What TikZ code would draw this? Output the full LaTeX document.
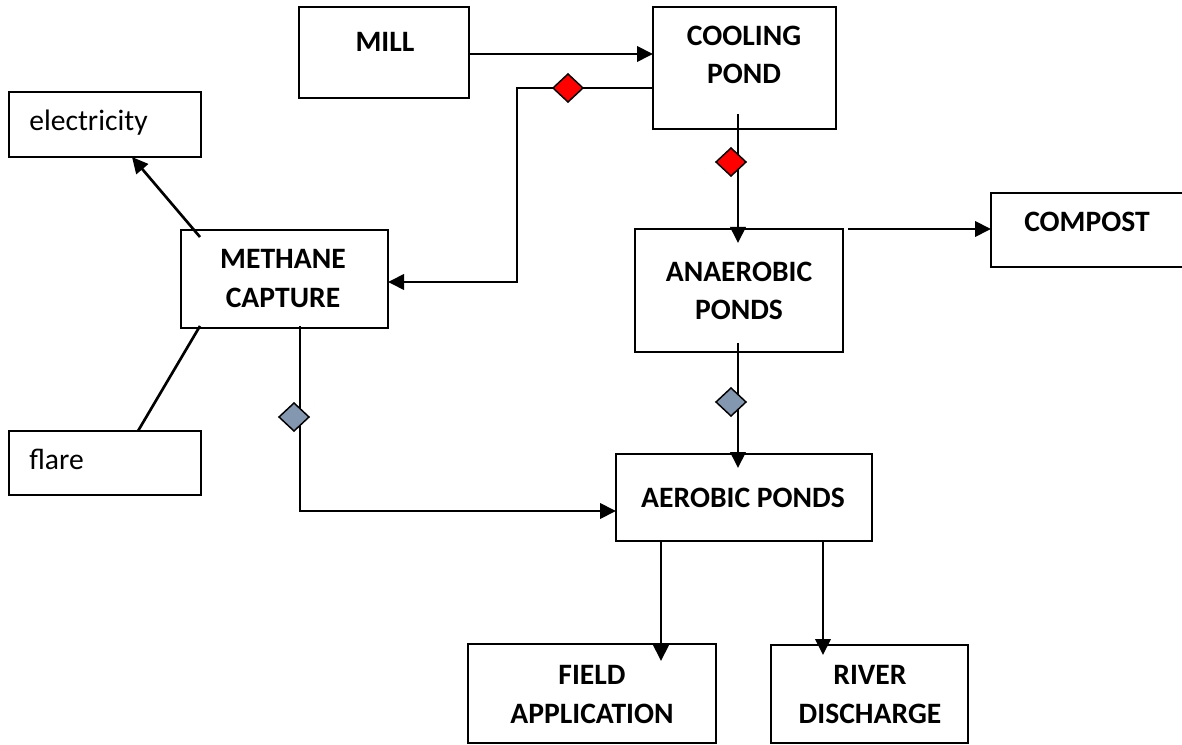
\documentclass[tikz,border=0pt]{standalone}
\usepackage{fontspec}
\setmainfont{Carlito}
\usetikzlibrary{arrows.meta,fit,calc}
\definecolor{dgray}{RGB}{132,151,176}
\definecolor{dred}{RGB}{255,0,0}
\tikzset{
  box/.style={draw=black,line width=1.3pt,inner sep=0pt,outer sep=0pt,fill=white},
  lbl/.style={inner sep=0pt,align=center,font=\bfseries\fontsize{22.2}{29}\selectfont},
  plain/.style={inner sep=0pt,anchor=west,font=\fontsize{22.2}{29}\selectfont},
  conn/.style={draw=black,line width=2pt},
  arr/.style={conn,-{Triangle[length=12pt,width=11.5pt]}},
  reddia/.style={draw=black,line width=1.1pt,fill=dred},
  graydia/.style={draw=black,line width=1.1pt,fill=dgray}
}
\newcommand\mydia[3]{\filldraw[#3] (#1-15,#2) -- (#1,#2-14) -- (#1+15,#2) -- (#1,#2+14) -- cycle;}
\begin{document}
\begin{tikzpicture}[x=0.75pt,y=-0.75pt]
\useasboundingbox (0,0) rectangle (1182,745);
% boxes
\node[box,fit={(299,7) (469,98)}] (mill) {};
\node[box,fit={(653,7) (836,129)}] (cool) {};
\node[box,fit={(9,92) (201,157)}] (elec) {};
\node[box,fit={(181,230) (388,328)}] (meth) {};
\node[box,fit={(991,193) (1185,267)}] (comp) {};
\node[box,fit={(635,229) (843,352)}] (anaer) {};
\node[box,fit={(9,431) (201,495)}] (flare) {};
\node[box,fit={(616,454) (872,541)}] (aer) {};
\node[box,fit={(468,644) (716,743)}] (field) {};
\node[box,fit={(771,645) (968,743)}] (river) {};
% texts
\node[lbl] (millt) at (385,42) {MILL};
\node[lbl] (coolt) at (744,55) {COOLING\\POND};
\node[plain] (elect) at (29,123) {electricity};
\node[lbl] (metht) at (283,278.5) {METHANE\\CAPTURE};
\node[lbl] (compt) at (1087,222) {COMPOST};
\node[lbl] (anaert) at (739,291) {ANAEROBIC\\PONDS};
\node[plain] (flaret) at (29,459) {flare};
\node[lbl] (aert) at (743,498) {AEROBIC PONDS};
\node[lbl] (fieldt) at (592,694.5) {FIELD\\APPLICATION};
\node[lbl] (rivert) at (870,694.5) {RIVER\\DISCHARGE};
% helper coordinates
\coordinate (r54) at (0,54);
\coordinate (k1) at (517,88);
\coordinate (k2) at (517,282);
\coordinate (vA) at (738,0);
\coordinate (vF) at (661,0);
\coordinate (vR) at (823,0);
\coordinate (elb) at (300,511);
% connectors
\draw[arr] (mill.east |- r54) -- (cool.west |- r54);
\draw[arr] (cool.west |- k1) -- (k1) -- (k2) -- (meth.east |- k2);
\draw[arr] ($(cool.south -| vA)+(0,-15)$) -- ($(anaer.north -| vA)+(0,14)$);
\draw[arr] ($(anaer.south -| vA)+(0,-9)$) -- ($(aer.north -| vA)+(0,14)$);
\draw[arr] ($(anaer.north east)+(5,0)$) -- (comp.west |- anaer.north);
\draw[arr] ($(meth.north west)+(19,7)$) -- ($(elec.south west)+(123,0)$);
\draw[conn] ($(meth.south west)+(19,-2)$) -- ($(flare.north west)+(129,0)$);
\draw[arr] ($(meth.south west)+(119,-2)$) -- (elb) -- (aer.west |- elb);
\draw[arr] (aer.south -| vF) -- ($(field.north -| vF)+(0,17)$);
\draw[arr] (aer.south -| vR) -- ($(river.north -| vR)+(0,10)$);
% diamonds
\mydia{568}{88}{reddia}
\mydia{731}{162}{reddia}
\mydia{731}{402}{graydia}
\mydia{294}{417}{graydia}
\end{tikzpicture}
\end{document}
